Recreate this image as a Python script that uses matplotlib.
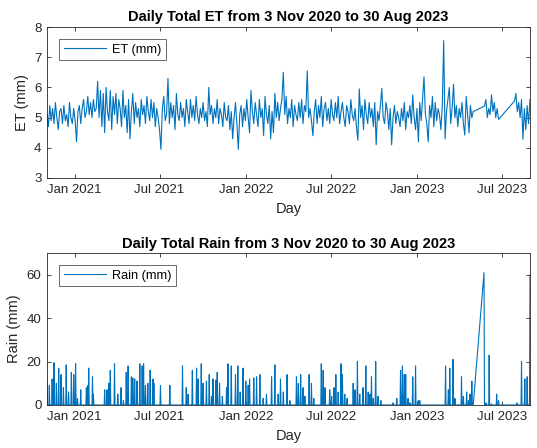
import numpy as np
import pandas as pd
import matplotlib
matplotlib.use('Agg')
import matplotlib.pyplot as plt
import matplotlib.dates as mdates

plt.rcParams['font.family'] = ['Liberation Sans', 'DejaVu Sans']

start = pd.Timestamp('2020-11-03')

# daily ET (mm), read every 3 days; the logger has two gaps in 2023
et_a = [5.1, 4.7, 5.4, 4.9, 5.3, 4.8, 5.5, 5.0, 4.6, 5.2,
        5.3, 4.8, 5.4, 4.9, 5.1, 4.7, 5.5, 5.0, 4.8, 5.3,
        4.9, 4.2, 5.2, 5.4, 4.8, 5.3, 5.6, 5.0, 5.2, 5.7,
        5.1, 5.5, 5.0, 5.6, 5.2, 5.3, 6.2, 5.0, 5.9, 4.7,
        5.8, 4.5, 6.0, 5.2, 4.9, 5.9, 4.6, 5.7, 5.1, 5.8,
        4.8, 5.6, 5.3, 4.7, 5.9, 5.0, 5.4, 4.5, 5.6, 4.3,
        5.2, 5.8, 4.8, 5.5, 5.0, 5.3, 4.7, 5.6, 5.1, 5.4,
        4.8, 5.7, 5.2, 4.9, 5.6, 5.0, 5.5, 4.7, 5.3, 5.0,
        4.6, 3.95, 5.3, 5.7, 4.9, 5.1, 6.3, 4.8, 5.5, 5.0,
        5.4, 4.6, 5.8, 5.1, 4.9, 5.5, 5.0, 5.3, 4.7, 5.6,
        5.2, 4.8, 5.6, 5.0, 5.4, 4.9, 5.7, 5.1, 4.8, 5.3,
        5.0, 5.5, 4.9, 5.2, 4.7, 6.0, 5.1, 5.4, 4.8, 5.3,
        5.0, 5.6, 4.8, 5.3, 5.1, 4.7, 5.5, 5.0, 4.9, 5.4,
        4.6, 5.2, 4.3, 5.0, 5.5, 4.8, 3.95, 5.1, 5.4, 4.7,
        5.3, 4.9, 5.6, 5.0, 4.5, 5.9, 5.2, 4.8, 5.5, 5.1,
        4.7, 5.6, 5.0, 5.3, 4.4, 5.7, 5.1, 4.8, 5.4, 4.3,
        5.2, 4.5, 5.8, 5.0, 5.5, 4.9, 5.3, 5.6, 6.5, 5.1,
        5.7, 4.8, 5.3, 5.0, 5.6, 4.7, 5.4, 5.1, 4.9, 5.5,
        5.0, 5.6, 4.8, 5.4, 5.2, 6.55, 5.0, 5.3, 4.9, 4.4,
        5.2, 5.6, 4.8, 5.4, 5.0, 5.7, 4.7, 5.3, 5.5, 4.9,
        5.3, 4.8, 5.6, 5.1, 4.9, 5.5, 5.0, 5.7, 4.8, 5.2,
        5.5, 5.0, 4.7, 5.4, 5.2, 4.8, 5.6, 5.1, 4.9, 5.3,
        4.7, 4.25, 5.95, 5.0, 5.4, 4.6, 5.6, 5.1, 4.8, 5.5,
        5.0, 5.3, 4.7, 5.5, 4.1, 5.2, 4.9, 5.4, 5.97, 5.0,
        4.8, 5.5, 5.2, 4.6, 5.3, 4.1, 5.0, 5.4, 4.8, 5.2,
        5.0, 4.7, 5.3, 4.9, 5.5, 4.6, 5.2, 5.0, 5.4, 4.8,
        5.75, 5.0, 4.6, 5.3, 4.2, 5.5, 4.9, 5.6, 6.35, 5.1,
        4.8, 4.2, 5.4, 5.0, 5.7, 4.7, 5.5, 4.9, 5.3, 5.1,
        4.6, 5.4, 7.55, 4.3, 5.2, 5.6, 6.0, 4.8, 5.3, 6.1,
        5.0, 5.4, 4.7, 5.3, 5.0, 5.5, 4.8, 4.42, 5.7, 5.1,
        4.5, 5.4, 5.0, 5.2]
et_b = [5.38, 5.6, 5.0, 5.3, 5.1, 5.75, 5.2, 5.5, 5.0, 5.3, 4.94]
et_c = [5.55, 5.8, 5.2, 5.5, 5.0, 5.6, 4.28, 5.3, 4.6, 5.4, 4.8, 5.6]
et_starts = ['2020-11-03', '2023-05-25', '2023-07-28']

# rainy days: day number since 3 Nov 2020 and total (mm)
rain_day = [0, 5, 11, 15, 20, 25, 30, 35, 41, 46, 52, 57, 61, 65, 72, 84, 87, 89, 97, 99,
            123, 128, 132, 135, 144, 151, 158, 163, 169, 173, 180, 183, 187, 192, 198, 203,
            206, 210, 215, 220, 226, 228, 242, 262, 289, 297, 301, 310, 319, 322, 329, 333,
            340, 346, 351, 354, 360, 363, 368, 374, 383, 386, 393, 402, 407, 412, 418, 424,
            429, 432, 441, 447, 454, 461, 468, 479, 486, 493, 498, 504, 512, 518, 532, 536,
            541, 546, 550, 559, 564, 569, 585, 589, 593, 603, 607, 612, 616, 621, 627, 630,
            635, 640, 653, 657, 662, 667, 674, 680, 685, 689, 692, 696, 701, 706, 712, 738,
            746, 754, 758, 762, 765, 770, 774, 780, 786, 792, 795, 850, 856, 859, 866, 870,
            884, 888, 895, 899, 902, 906, 932, 936, 943, 948, 959, 963, 1002, 1012, 1018,
            1019, 1024, 1030]
rain_mm = [12, 9, 12, 19.5, 10, 17, 14, 8, 18.5, 6, 15, 14, 19, 3, 7, 8, 9, 17, 13, 5,
           7, 7, 10, 16, 19, 5, 8, 2, 15, 18, 13, 12.5, 12, 11, 19, 18,
           19, 9, 10, 16, 12, 10, 9, 9, 18, 8, 5, 16, 17, 12, 19, 10,
           11, 14, 4, 12, 11.5, 15, 10, 4, 8, 19, 18, 14, 18, 6, 17, 11,
           9, 12, 12.5, 13, 14, 3, 5, 13, 18.5, 5, 12, 6, 14, 2, 13, 10,
           14, 8, 4, 14, 10, 3, 19, 16, 8, 7, 4, 8, 14, 6, 19, 14,
           5, 3, 10, 7, 20, 5, 8, 18, 6, 5, 13, 3, 20, 4, 2, 1,
           3, 16, 18, 14, 14, 3, 1, 13, 18, 2, 2, 18, 7, 17, 21, 3,
           13, 4, 6, 2, 5, 11, 61, 1, 23, 0.5, 5, 2, 1, 20, 1,
           12, 13, 60]
rain_gaps = [(910, 931), (965, 996)]

et_dates = []
et_vals = []
for s, vals in zip(et_starts, [et_a, et_b, et_c]):
    et_dates.extend(pd.date_range(s, periods=len(vals), freq='3D'))
    et_vals.extend(vals)

days = np.arange(0, 1031)
keep = np.ones(len(days), dtype=bool)
for a, b in rain_gaps:
    keep &= ~((days >= a) & (days <= b))
rain = pd.Series(0.0, index=days)
rain[rain_day] = rain_mm
rain = rain[keep]
rain_dates = start + pd.to_timedelta(rain.index, unit='D')

blue = '#0072BD'
grey = '#262626'

fig = plt.figure(figsize=(5.37, 4.48), dpi=100)
ax1 = fig.add_axes([0.0875, 0.6027, 0.8994, 0.337])
ax2 = fig.add_axes([0.0875, 0.096, 0.8994, 0.339])

ax1.plot(et_dates, et_vals, color=blue, lw=0.8, label='ET (mm)')
ax1.set_ylim(3, 8)
ax1.set_yticks([3, 4, 5, 6, 7, 8])
ax1.set_ylabel('ET (mm)', fontsize=10.5, color=grey)
ax1.set_title('Daily Total ET from 3 Nov 2020 to 30 Aug 2023', fontsize=10.5,
              fontweight='bold', pad=4)

ax2.plot(rain_dates, rain.values, color=blue, lw=0.8, label='Rain (mm)')
ax2.set_ylim(0, 70)
ax2.set_yticks([0, 20, 40, 60])
ax2.set_ylabel('Rain (mm)', fontsize=10.5, color=grey)
ax2.set_title('Daily Total Rain from 3 Nov 2020 to 30 Aug 2023', fontsize=10.5,
              fontweight='bold', pad=4)

for ax in (ax1, ax2):
    ax.set_xlim(pd.Timestamp('2020-11-03'), pd.Timestamp('2023-08-30'))
    ax.xaxis.set_major_locator(mdates.MonthLocator(bymonth=[1, 7]))
    ax.xaxis.set_major_formatter(mdates.DateFormatter('%b %Y'))
    ax.set_xlabel('Day', fontsize=10.5, color=grey, labelpad=5)
    ax.tick_params(direction='in', top=True, right=True, labelsize=9.5,
                   colors=grey, length=3, width=0.6, pad=4)
    for sp in ax.spines.values():
        sp.set_color(grey)
        sp.set_linewidth(0.6)
    leg = ax.legend(loc='upper left', fontsize=9.2, handlelength=3.3,
                    fancybox=False, borderaxespad=0.95, borderpad=0.35,
                    handletextpad=0.5)
    leg.get_frame().set_edgecolor(grey)
    leg.get_frame().set_linewidth(0.6)

fig.savefig('out.png', dpi=100)
